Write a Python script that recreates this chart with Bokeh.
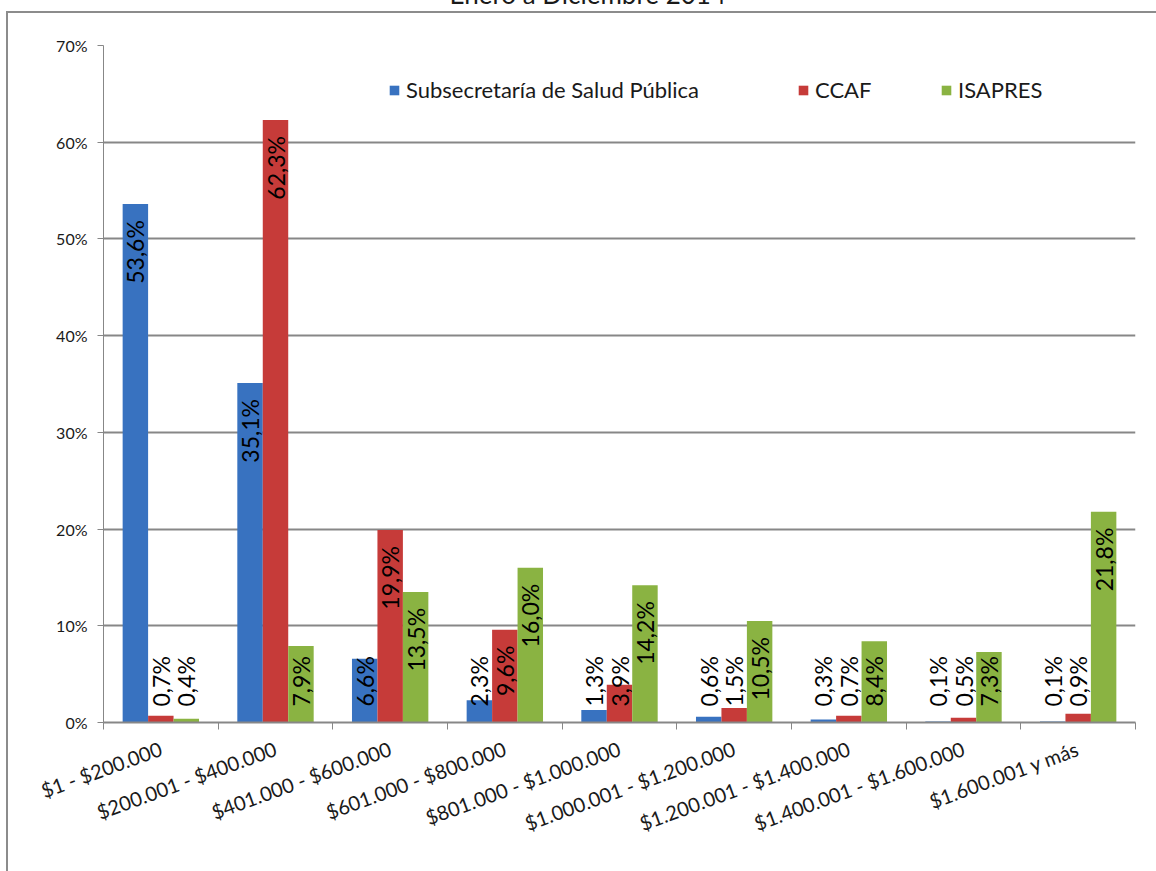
import math
from bokeh.plotting import figure
from bokeh.models import (Range1d, FixedTicker, PrintfTickFormatter, Legend, LegendItem,
                          ColumnDataSource, InlineStyleSheet)
from bokeh.embed import file_html
from bokeh.resources import INLINE
from bokeh.core.properties import value

# ---------------- data ----------------
title_text = "Enero a Diciembre 2014"
categories = ["$1 - $200.000", "$200.001 - $400.000", "$401.000 - $600.000",
              "$601.000 - $800.000", "$801.000 - $1.000.000", "$1.000.001 - $1.200.000",
              "$1.200.001 - $1.400.000", "$1.400.001 - $1.600.000", "$1.600.001 y más"]
series_names = ["Subsecretaría de Salud Pública", "CCAF", "ISAPRES"]
subsecretaria = [53.6, 35.1, 6.6, 2.3, 1.3, 0.6, 0.3, 0.1, 0.1]
ccaf = [0.7, 62.3, 19.9, 9.6, 3.9, 1.5, 0.7, 0.5, 0.9]
isapres = [0.4, 7.9, 13.5, 16.0, 14.2, 10.5, 8.4, 7.3, 21.8]
y_ticks = [0, 10, 20, 30, 40, 50, 60, 70]

# ---------------- style ----------------
FONT = "Lato"
colors = ["#3872c0", "#c63b39", "#8ab342"]
offsets = [-0.222, 0.0, 0.222]
bar_w = 0.222
GRID = "#878787"
MT, ML = -64, -8          # negative page margins (top, left)
SY, SX = -MT, -ML         # canvas offset relative to the window corner
W, H = 1164, 871 + SY
TOP, LEFT = 45 + SY, 103 + SX
BOTTOM = H - (722 + SY)
RIGHT = W - (1135 + SX)

p = figure(width=W, height=H, x_range=Range1d(0, len(categories)), y_range=Range1d(0, y_ticks[-1]),
           output_backend="svg", toolbar_location=None, title=title_text,
           min_border_left=LEFT, min_border_right=RIGHT, min_border_top=TOP, min_border_bottom=BOTTOM)
p.margin = (MT, 0, 0, ML)
p.outline_line_color = None
p.background_fill_color = "white"
p.border_fill_color = "white"

# title: only its lower part shows at the top edge, as in the original
p.title.align = "left"
p.title.offset = 346
p.title.standoff = 72
p.title.text_font = FONT
p.title.text_font_style = "normal"
p.title.text_font_size = "26px"
p.title.text_color = "#1a1a1a"

# outer chart-area border (left and top edges are the visible ones)
p.stylesheets = [InlineStyleSheet(css=f"""
:host {{ position: relative; }}
:host::after {{
  content: ""; position: absolute; left: {6 + SX}px; top: {11 + SY}px; right: 0; bottom: 0;
  border-left: 2px solid #8c8c8c; border-top: 2px solid #8c8c8c;
  pointer-events: none; z-index: 10;
}}
""")]

# grid
p.xgrid.visible = False
p.ygrid.grid_line_color = GRID
p.ygrid.grid_line_width = 2
p.ygrid.ticker = FixedTicker(ticks=y_ticks)

# y axis
p.yaxis.ticker = FixedTicker(ticks=y_ticks)
p.yaxis.formatter = PrintfTickFormatter(format="%d%%")
p.yaxis.axis_line_color = GRID
p.yaxis.axis_line_width = 1
p.yaxis.major_tick_line_color = GRID
p.yaxis.major_tick_out = 6
p.yaxis.major_tick_in = 0
p.yaxis.minor_tick_line_color = None
p.yaxis.major_label_text_font = FONT
p.yaxis.major_label_text_font_size = "16px"
p.yaxis.major_label_text_color = "#1a1a1a"
p.yaxis.major_label_standoff = 10

# x axis: labels at category centres, ticks at boundaries
centers = [i + 0.5 for i in range(len(categories))]
bounds = [float(i) for i in range(len(categories) + 1)]
p.xaxis.ticker = FixedTicker(ticks=centers, minor_ticks=bounds)
p.xaxis.major_label_overrides = {c: lab for c, lab in zip(centers, categories)}
p.xaxis.major_tick_line_color = None
p.xaxis.minor_tick_line_color = GRID
p.xaxis.minor_tick_out = 7
p.xaxis.minor_tick_in = 0
p.xaxis.axis_line_color = GRID
p.xaxis.axis_line_width = 2
p.xaxis.major_label_orientation = 0.35
p.xaxis.major_label_text_font = FONT
p.xaxis.major_label_text_font_size = "20px"
p.xaxis.major_label_text_color = "#1a1a1a"
p.xaxis.major_label_standoff = 18

ppu = (H - TOP - BOTTOM) / y_ticks[-1]


def fmt(v):
    return f"{v:.1f}".replace(".", ",") + "%"


renderers = []
for vals, col, off in zip([subsecretaria, ccaf, isapres], colors, offsets):
    xs = [i + 0.5 + off for i in range(len(categories))]
    labels = [fmt(v) for v in vals]
    src = ColumnDataSource(dict(x=xs, top=vals, label=labels))
    r = p.vbar(x="x", top="top", bottom=0, width=bar_w, source=src,
               fill_color=col, line_color=None)
    renderers.append(r)
    inside = [v * ppu - 16 - 12.6 * len(l) >= 17 for v, l in zip(vals, labels)]
    src_in = ColumnDataSource(dict(x=[x for x, f in zip(xs, inside) if f],
                                   y=[v for v, f in zip(vals, inside) if f],
                                   label=[l for l, f in zip(labels, inside) if f]))
    src_out = ColumnDataSource(dict(x=[x for x, f in zip(xs, inside) if not f],
                                    y=[0 for f in inside if not f],
                                    label=[l for l, f in zip(labels, inside) if not f]))
    p.text(x="x", y="y", text="label", source=src_in, angle=math.pi / 2,
           text_align="right", text_baseline="middle", y_offset=16,
           text_font=value(FONT), text_font_size="23px", text_color="black")
    p.text(x="x", y="y", text="label", source=src_out, angle=math.pi / 2,
           text_align="left", text_baseline="middle", y_offset=-16,
           text_font=value(FONT), text_font_size="23px", text_color="black")

# legends (one per series, placed like the original)
legend_x = [285, 694, 837]
for r, name, lx in zip(renderers, series_names, legend_x):
    leg = Legend(items=[LegendItem(label=name, renderers=[r])], location=(lx, 619),
                 orientation="horizontal", border_line_color=None, background_fill_alpha=0,
                 padding=0, margin=0, glyph_width=12, glyph_height=12, label_standoff=6,
                 label_text_font=FONT, label_text_font_size="22px", label_text_color="#1a1a1a",
                 label_text_baseline="middle")
    p.add_layout(leg)

open("out.html", "w").write(file_html(p, INLINE))
